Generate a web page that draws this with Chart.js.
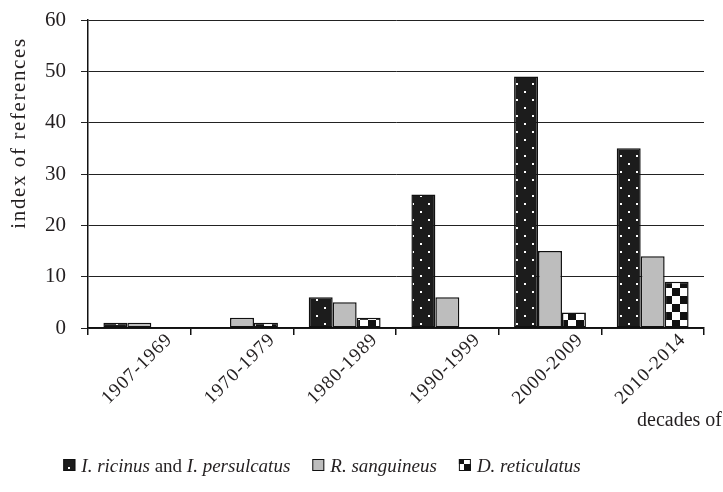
<!DOCTYPE html>
<html>
<head>
<meta charset="utf-8">
<script src="https://cdn.jsdelivr.net/npm/chart.js@4"></script>
<style>
  html, body { margin: 0; padding: 0; background: #fff; }
  #wrap { width: 723px; height: 492px; position: relative; }
</style>
</head>
<body>
<div id="wrap"><canvas id="chart" width="723" height="492"></canvas></div>
<script>
// decades of publication
const decades = ['1907-1969', '1970-1979', '1980-1989', '1990-1999', '2000-2009', '2010-2014'];

// series names
const seriesNames = ['I. ricinus and I. persulcatus', 'R. sanguineus', 'D. reticulatus'];

// number of references per decade
const ixodesRefs = [1, 0, 6, 26, 49, 35];
const rhipicephalusRefs = [1, 2, 5, 6, 15, 14];
const dermacentorRefs = [0, 1, 2, 0, 3, 9];

const yTicks = [0, 10, 20, 30, 40, 50, 60];
const yTitle = 'index of references';
const xTitle = 'decades of';

const SERIF = "'Liberation Serif', 'DejaVu Serif', serif";

// fill patterns
function makePattern(draw) {
  const c = document.createElement('canvas');
  c.width = 16; c.height = 16;
  const g = c.getContext('2d');
  draw(g);
  return g.createPattern(c, 'repeat');
}
const ctx = document.getElementById('chart').getContext('2d');
const dotFill = makePattern(g => {
  g.fillStyle = '#1c1c1c';
  g.fillRect(0, 0, 16, 16);
  g.fillStyle = '#fff';
  g.fillRect(4, 3, 2, 2);
  g.fillRect(12, 11, 2, 2);
});
const checkFill = makePattern(g => {
  g.fillStyle = '#fff';
  g.fillRect(0, 0, 16, 16);
  g.fillStyle = '#111';
  g.fillRect(0, 0, 8, 8);
  g.fillRect(8, 8, 8, 8);
});
const grayFill = '#bdbdbd';
const fills = [dotFill, grayFill, checkFill];

// labels, titles and legend drawn by hand (mixed italic text, centred rotated labels)
const textPlugin = {
  id: 'textPlugin',
  afterDraw(chart) {
    const c = chart.ctx;
    const xs = chart.scales.x;
    c.save();
    c.fillStyle = '#231f20';

    // rotated category labels
    c.font = '19px ' + SERIF;
    c.letterSpacing = '1px';
    c.textAlign = 'center';
    c.textBaseline = 'middle';
    decades.forEach((d, i) => {
      const x = xs.getPixelForValue(i);
      c.save();
      c.translate(x - 2, 369);
      c.rotate(-Math.PI / 4);
      c.fillText(d, 0, 0);
      c.restore();
    });

    // y title
    c.save();
    c.font = '21px ' + SERIF;
    c.letterSpacing = '1.6px';
    c.translate(19, 133);
    c.rotate(-Math.PI / 2);
    c.textAlign = 'center';
    c.textBaseline = 'middle';
    c.fillText(yTitle, 0, 0);
    c.restore();
    c.letterSpacing = '0px';

    // x title (cut at the edge, as in the original)
    c.font = '20px ' + SERIF;
    c.textAlign = 'right';
    c.textBaseline = 'alphabetic';
    c.fillText(xTitle, 722, 426);
    c.textAlign = 'left';

    // legend
    const italic = 'italic 19px ' + SERIF;
    const upright = '19px ' + SERIF;
    const items = chart.data.datasets.map((ds, i) => {
      const parts = [];
      ds.label.split(' and ').forEach((p, j) => {
        if (j > 0) parts.push([' and ', upright]);
        parts.push([p, italic]);
      });
      let w = 0;
      parts.forEach(p => { c.font = p[1]; w += c.measureText(p[0]).width; });
      return { parts, w, fill: fills[i] };
    });
    const sw = 12, gapText = 6, gapItem = 22;
    let total = 0;
    items.forEach((it, i) => { total += sw + gapText + it.w + (i ? gapItem : 0); });
    let x = 322 - total / 2;
    const base = 472;
    items.forEach(it => {
      c.fillStyle = it.fill;
      c.fillRect(x, base - 13, sw, sw);
      c.strokeStyle = '#111';
      c.lineWidth = 1;
      c.strokeRect(x + 0.5, base - 12.5, sw - 1, sw - 1);
      x += sw + gapText;
      c.fillStyle = '#231f20';
      it.parts.forEach(p => {
        c.font = p[1];
        c.fillText(p[0], x, base);
        x += c.measureText(p[0]).width;
      });
      x += gapItem;
    });
    c.restore();
  }
};

const barStyle = { borderColor: '#111', borderWidth: 1.5, borderSkipped: false };

new Chart(ctx, {
  type: 'bar',
  data: {
    labels: decades,
    datasets: [
      { label: seriesNames[0], data: ixodesRefs, backgroundColor: dotFill, ...barStyle },
      { label: seriesNames[1], data: rhipicephalusRefs, backgroundColor: grayFill, ...barStyle },
      { label: seriesNames[2], data: dermacentorRefs, backgroundColor: checkFill, ...barStyle }
    ]
  },
  options: {
    responsive: false,
    animation: false,
    devicePixelRatio: 1,
    layout: { padding: { top: 20, right: 19, left: 0, bottom: 0 } },
    datasets: { bar: { categoryPercentage: 0.7, barPercentage: 1.0 } },
    plugins: { legend: { display: false }, tooltip: { enabled: false } },
    scales: {
      x: {
        grid: { offset: true, drawOnChartArea: false, drawTicks: true, tickLength: 7, color: '#111', lineWidth: 1.5 },
        border: { color: '#111', width: 1.5 },
        ticks: { display: false },
        afterFit(scale) { scale.height = 164; }
      },
      y: {
        min: 0,
        max: 60,
        afterBuildTicks(scale) { scale.ticks = yTicks.map(v => ({ value: v })); },
        grid: { color: '#222', lineWidth: 1, drawTicks: true, tickLength: 7 },
        border: { color: '#111', width: 1.5 },
        ticks: { font: { family: SERIF, size: 21 }, color: '#231f20', padding: 15 },
        afterFit(scale) {
          scale.width = 88;
          scale.paddingTop = 0;
          scale.paddingBottom = 0;
        }
      }
    }
  },
  plugins: [textPlugin]
});
</script>
</body>
</html>
